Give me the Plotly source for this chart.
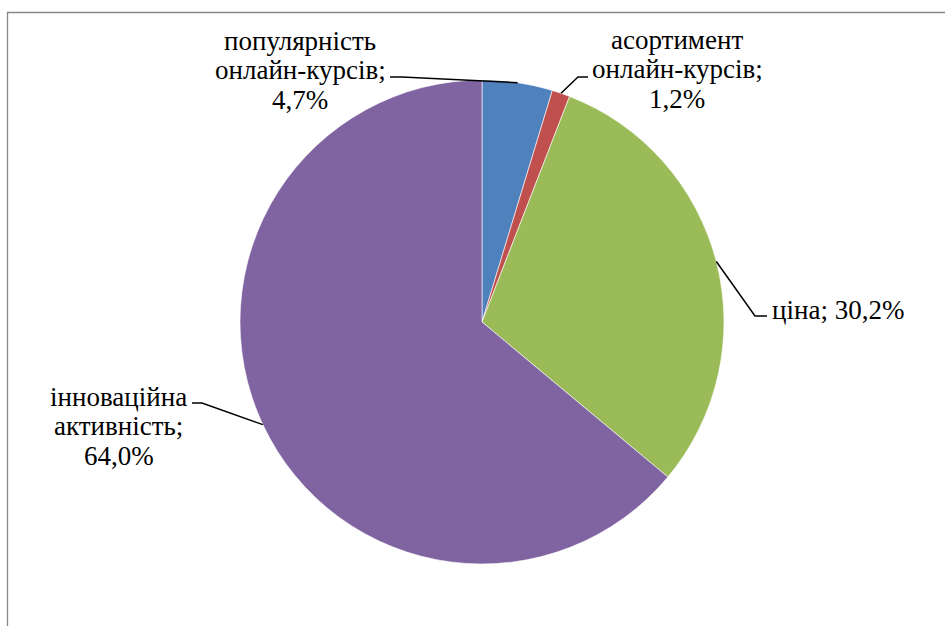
import math
import plotly.graph_objects as go

# Data
categories = ["популярність онлайн-курсів", "асортимент онлайн-курсів", "ціна", "інноваційна активність"]
shares = [4.7, 1.2, 30.2, 64.0]
colors = ["#4F81BD", "#C0504D", "#9BBB59", "#8064A2"]
label_lines = [
    ["популярність", "онлайн-курсів;", "4,7%"],
    ["асортимент", "онлайн-курсів;", "1,2%"],
    ["ціна; 30,2%"],
    ["інноваційна", "активність;", "64,0%"],
]

W, H = 945, 626
CX, CY, R = 482, 322, 242          # pie centre and radius in pixels
FONT = "Liberation Serif"
FS = 27
LINE_GAP = 29.5

# label layout: centre x of text, baseline of first line, leader end and elbow
label_layout = [
    dict(x=300, base=49, xanchor="center", end=(390, 77), elbow=(402, 77)),
    dict(x=677, base=48, xanchor="center", end=(588, 77), elbow=(578, 77)),
    dict(x=770, base=318, xanchor="left", end=(767, 316), elbow=(755, 316)),
    dict(x=119, base=405, xanchor="center", end=(192, 403), elbow=(202, 403)),
]


def px(x):
    return x / W


def py(y):
    return 1 - y / H


fig = go.Figure()
fig.add_trace(go.Pie(
    labels=categories,
    values=shares,
    sort=False,
    direction="clockwise",
    rotation=0,
    marker=dict(colors=colors, line=dict(color="white", width=0.6)),
    textinfo="none",
    hoverinfo="label+percent",
    showlegend=False,
    domain=dict(x=[px(CX - R), px(CX + R)], y=[py(CY + R), py(CY - R)]),
))

total = sum(shares)
cum = 0.0
for val, lines, lay in zip(shares, label_lines, label_layout):
    # leader line starts on the rim at the middle of the slice
    ang = 2 * math.pi * (cum + val / 2) / total
    cum += val
    ax = CX + R * math.sin(ang)
    ay = CY - R * math.cos(ang)
    ex, ey = lay["elbow"]
    tx, ty = lay["end"]
    fig.add_shape(
        type="path", xref="paper", yref="paper", layer="above",
        path=f"M {px(ax)} {py(ay)} L {px(ex)} {py(ey)} L {px(tx)} {py(ty)}",
        line=dict(color="black", width=1.5),
    )
    for i, txt in enumerate(lines):
        base = lay["base"] + i * LINE_GAP
        fig.add_annotation(
            text=txt, xref="paper", yref="paper",
            x=px(lay["x"]), y=py(base - 0.3 * FS),
            xanchor=lay["xanchor"], yanchor="middle",
            showarrow=False, font=dict(family=FONT, size=FS, color="black"),
        )

# chart area frame
fig.add_shape(
    type="rect", xref="paper", yref="paper", layer="above",
    x0=px(7.5), x1=px(W + 5), y0=py(H + 5), y1=py(12.5),
    line=dict(color="#878787", width=1.3), fillcolor="rgba(0,0,0,0)",
)

fig.update_layout(
    width=W, height=H,
    margin=dict(l=0, r=0, t=0, b=0),
    paper_bgcolor="white", plot_bgcolor="white",
)

fig.write_html("out.html")
